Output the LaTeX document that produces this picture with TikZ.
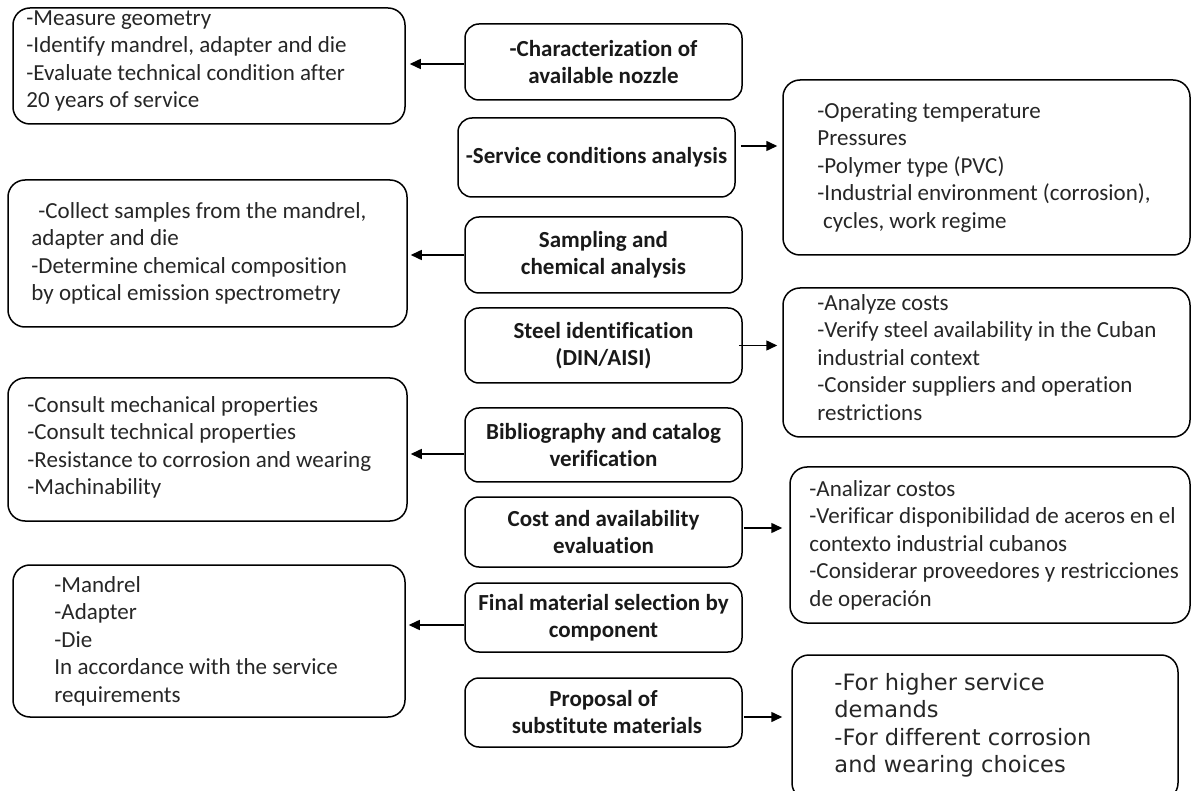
\documentclass[tikz,border=0pt]{standalone}
\usepackage{fontspec}
\setmainfont{Carlito}[Ligatures={NoCommon}]
\newfontfamily\djv{DejaVu Sans}[Ligatures={NoCommon}]
\usetikzlibrary{arrows.meta,calc}
\begin{document}
\begin{tikzpicture}[x=1pt,y=-1pt,
  every node/.style={font=\fontsize{23}{27.5}\selectfont},
  sbox/.style={draw, line width=1.5pt, rounded corners=17pt, inner sep=0pt},
  cbox/.style={draw, line width=1.5pt, rounded corners=14pt, inner sep=0pt, align=center, text=black!90, font=\fontsize{23}{27}\selectfont\bfseries},
  txt/.style={align=left, inner sep=0pt, anchor=west, text=black!85},
  arr/.style={line width=1.5pt, -{Triangle[length=11pt,width=10pt]}}]
\useasboundingbox (0,0) rectangle (1192,791);
\clip (0,0) rectangle (1192,791);
% centre column
\node[cbox, minimum width=277pt, minimum height=76pt] (C1) at (603.5,62) {-Characterization of\\available nozzle};
\node[cbox, minimum width=277pt, minimum height=79pt] (C2) at (596.5,157.5) {-Service conditions analysis};
\node[cbox, minimum width=277pt, minimum height=76pt] (C3) at (603.5,255) {Sampling and\\chemical analysis};
\node[cbox, minimum width=277pt, minimum height=75pt] (C4) at (603.5,345.5) {Steel identification\\(DIN/AISI)};
\node[cbox, minimum width=277pt, minimum height=74pt] (C5) at (603.5,445) {Bibliography and catalog\\verification};
\node[cbox, minimum width=277pt, minimum height=70pt] (C6) at (603.5,532) {Cost and availability\\evaluation};
\node[cbox, minimum width=277pt, minimum height=69pt] (C7) at (603.5,617.5) {Final material selection by\\component};
\node[cbox, minimum width=277pt, minimum height=69pt] (C8) at (603.5,712.5) {Proposal of\\\hspace*{0.3em}substitute materials};
% left column
\node[sbox, minimum width=392pt, minimum height=116pt] (L1) at (209,66) {};
\node[txt] (L1t) at ($(L1.west)+(14,-5)$) {-Measure geometry\\-Identify mandrel, adapter and die\\-Evaluate technical condition after\\20 years of service};
\node[sbox, minimum width=399pt, minimum height=147pt] (L2) at (207.5,253.5) {};
\node[txt] (L2t) at ($(L2.west)+(24,0)$) {\hspace*{0.3em}-Collect samples from the mandrel,\\adapter and die\\-Determine chemical composition\\by optical emission spectrometry};
\node[sbox, minimum width=399pt, minimum height=143pt] (L3) at (207.5,449.5) {};
\node[txt] (L3t) at ($(L3.west)+(20,-2)$) {-Consult mechanical properties\\-Consult technical properties\\-Resistance to corrosion and wearing\\-Machinability};
\node[sbox, minimum width=392pt, minimum height=152pt] (L4) at (209,641) {};
\node[txt] (L4t) at ($(L4.west)+(42,0)$) {-Mandrel\\-Adapter\\-Die\\In accordance with the service\\requirements};
% right column
\node[sbox, minimum width=407pt, minimum height=175pt] (R1) at (986.5,167.5) {};
\node[txt] (R1t) at ($(R1.west)+(35,0)$) {-Operating temperature\\Pressures\\-Polymer type (PVC)\\-Industrial environment (corrosion),\\\hspace*{0.25em}cycles, work regime};
\node[sbox, minimum width=407pt, minimum height=149pt] (R2) at (986.5,362.5) {};
\node[txt] (R2t) at ($(R2.west)+(35,-5)$) {-Analyze costs\\-Verify steel availability in the Cuban\\industrial context\\-Consider suppliers and operation\\restrictions};
\node[sbox, minimum width=400pt, minimum height=156pt] (R3) at (990,545) {};
\node[txt] (R3t) at ($(R3.west)+(20,0)$) {-Analizar costos\\-Verificar disponibilidad de aceros en el\\contexto industrial cubanos\\-Considerar proveedores y restricciones\\de operación};
\node[sbox, minimum width=386pt, minimum height=145pt] (R4) at (985,727.5) {};
\node[txt, font=\djv\fontsize{22.5}{27.5}\selectfont] (R4t) at ($(R4.west)+(43,-2)$) {-For higher service\\demands\\-For different corrosion\\and wearing choices};
% connectors
\draw[arr] ($(C1.west)+(0,2)$) -- ($(C1.west -| L1.east)+(4,2)$);
\draw[arr] ($(C2.east)+(5,-11.5)$) -- ($(C2.east -| R1.west)+(-5,-11.5)$);
\draw[arr] (C3.west) -- ($(C3.west -| L2.east)+(3,0)$);
\draw[arr] ($(C4.east)+(-4,0)$) -- ($(C4.east -| R2.west)+(-5,0)$);
\draw[arr] ($(C5.west)+(0,9)$) -- ($(C5.west -| L3.east)+(3,9)$);
\draw[arr] ($(C6.east)+(1,-4)$) -- ($(C6.east -| R3.west)+(-7,-4)$);
\draw[arr] ($(C7.west)+(0,7.5)$) -- ($(C7.west -| L4.east)+(3,7.5)$);
\draw[arr] ($(C8.east)+(1,4.5)$) -- ($(C8.east -| R4.west)+(-9,4.5)$);
\end{tikzpicture}
\end{document}
